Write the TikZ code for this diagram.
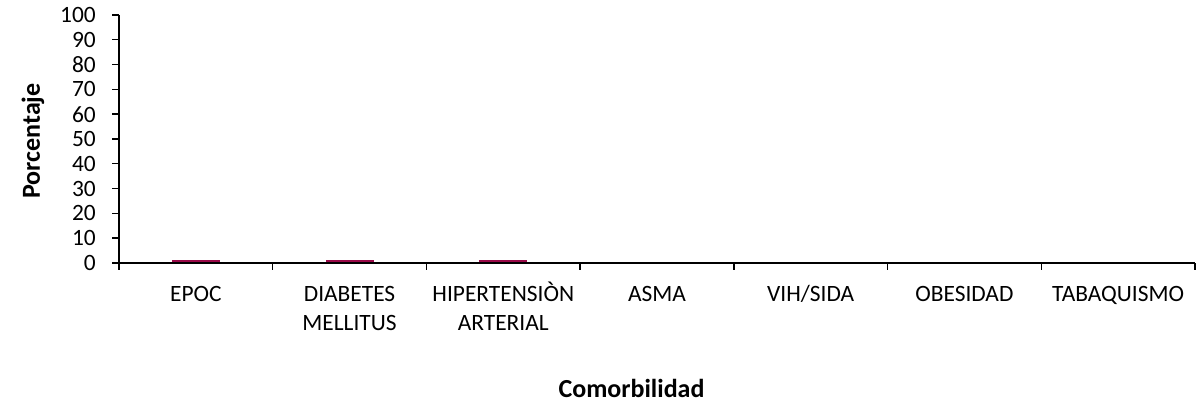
\documentclass[tikz,border=0pt]{standalone}
\usepackage{fontspec}
\setmainfont{Carlito}
\definecolor{barcol}{RGB}{153,10,72}
\begin{document}
\begin{tikzpicture}[x=1pt,y=-1pt,
  font=\fontsize{23.4}{28.6}\selectfont,
  axisline/.style={line width=1.4pt,black},
  tickline/.style={line width=1.4pt,black},
  ylab/.style={anchor=east,inner sep=0pt},
  catlab/.style={anchor=base,align=center,inner sep=0pt},
  titlelab/.style={font=\fontsize{26}{31}\selectfont\bfseries,inner sep=0pt},
  bar/.style={fill=barcol,draw=none}]
\useasboundingbox (0,0) rectangle (1198,403);
\coordinate (T) at (119,15);
\coordinate (O) at (119,263);
\coordinate (R) at (1195,263);
% bars
\foreach \i in {0,1,2}{
  \fill[bar] ({196+153.71*\i-24},260.3) rectangle ({196+153.71*\i+24},263);
}
% axes
\draw[axisline] (T) -- (O) -- (R);
% y ticks and labels
\foreach \v [count=\k from 0] in {0,10,20,30,40,50,60,70,80,90,100}{
  \draw[tickline] (112,{263-24.8*\k}) -- (119,{263-24.8*\k});
  \node[ylab] (y\k) at (96,{263-24.8*\k}) {\v};
}
% x ticks
\foreach \k in {0,...,7}{
  \draw[tickline] ({119+153.71*\k},263) -- ({119+153.71*\k},269.5);
}
% category labels (base = baseline of the last line)
\node[catlab] (c1) at ({119+153.71*0.5},301) {EPOC};
\node[catlab] (c2) at ({119+153.71*1.5},330) {DIABETES\\MELLITUS};
\node[catlab] (c3) at ({119+153.71*2.5},330) {HIPERTENSIÒN\\ARTERIAL};
\node[catlab] (c4) at ({119+153.71*3.5},301) {ASMA};
\node[catlab] (c5) at ({119+153.71*4.5},301) {VIH/SIDA};
\node[catlab] (c6) at ({119+153.71*5.5},301) {OBESIDAD};
\node[catlab] (c7) at ({119+153.71*6.5},301) {TABAQUISMO};
% axis titles
\node[titlelab,anchor=base] (xt) at (631.5,397) {Comorbilidad};
\node[titlelab,rotate=90] (yt) at (33,141) {Porcentaje};
\end{tikzpicture}
\end{document}
